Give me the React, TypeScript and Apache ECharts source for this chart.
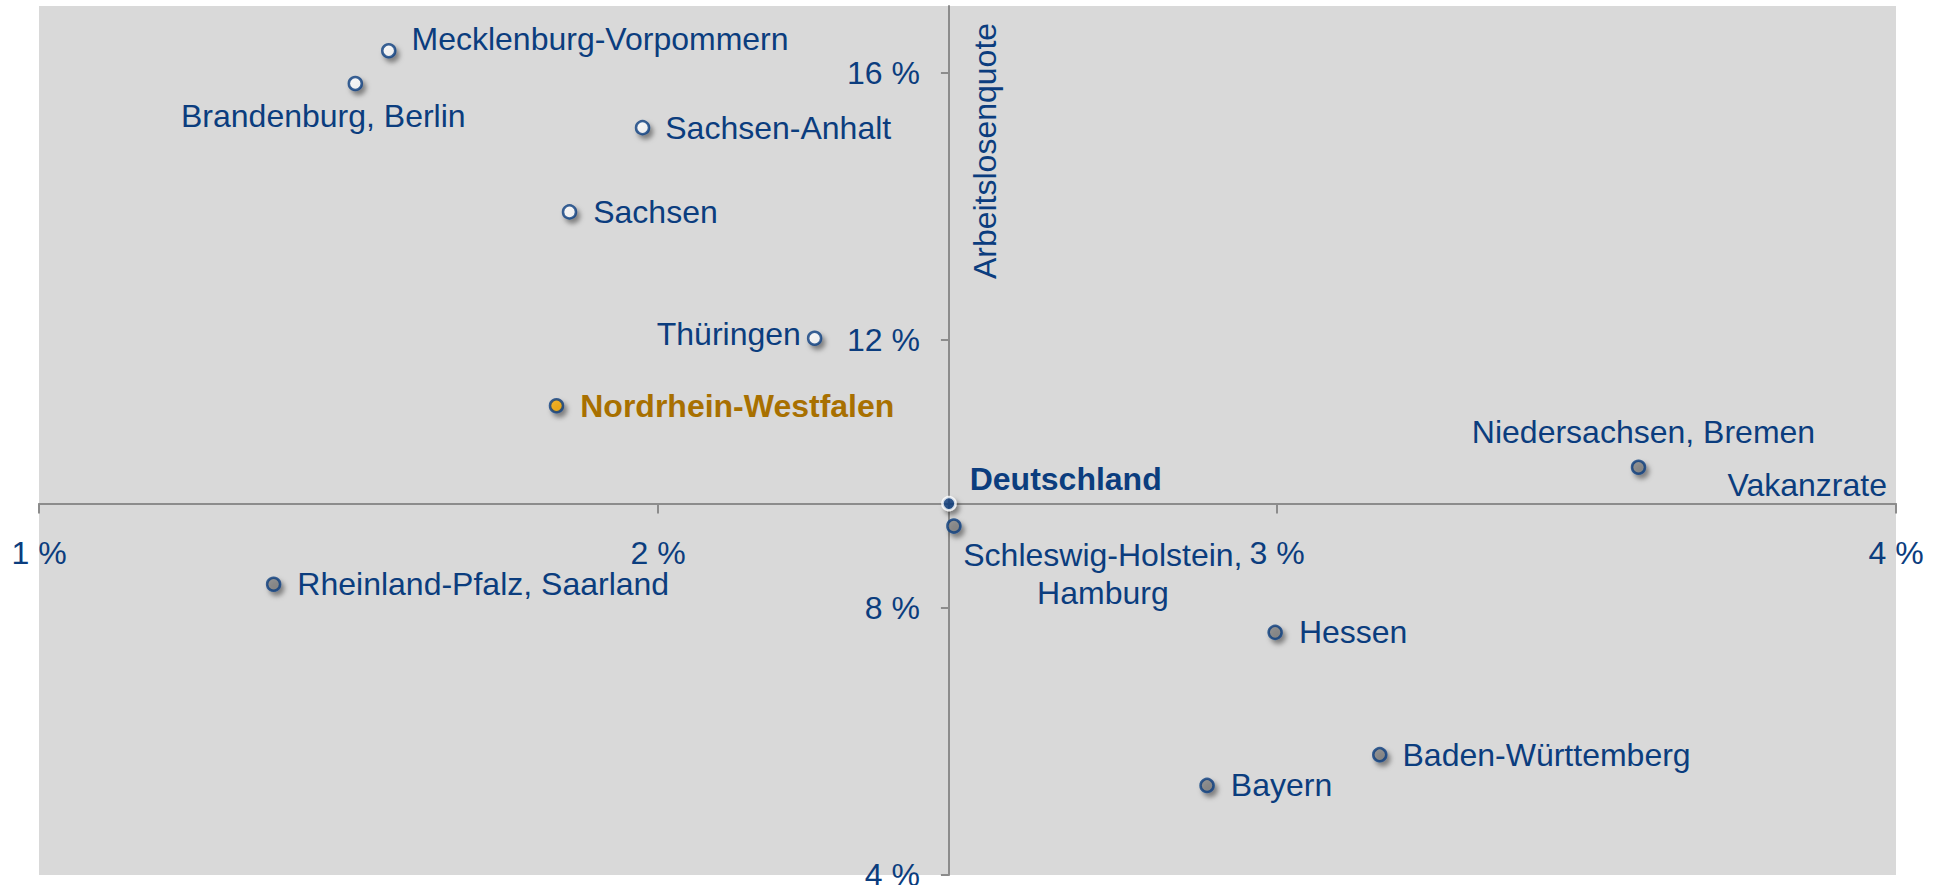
import React, { useEffect, useRef } from "react";
import * as echarts from "echarts";

// ---- data ----
const regions = [
  "Mecklenburg-Vorpommern",
  "Brandenburg, Berlin",
  "Sachsen-Anhalt",
  "Sachsen",
  "Thüringen",
  "Nordrhein-Westfalen",
  "Deutschland",
  "Niedersachsen, Bremen",
  "Schleswig-Holstein, Hamburg",
  "Hessen",
  "Baden-Württemberg",
  "Bayern",
  "Rheinland-Pfalz, Saarland",
];
// Vakanzrate in %
const vakanzrate = [1.565, 1.511, 1.975, 1.857, 2.253, 1.836, 2.47, 3.584, 2.478, 2.997, 3.166, 2.887, 1.379];
// Arbeitslosenquote in %
const arbeitslosenquote = [16.33, 15.84, 15.18, 13.92, 12.03, 11.02, 9.556, 10.1, 9.22, 7.63, 5.8, 5.34, 8.35];
// marker group
const groups = ["ost", "ost", "ost", "ost", "ost", "nrw", "de", "west", "west", "west", "west", "west", "west"];

const xTicks = [1, 2, 3, 4];
const yTicks = [4, 8, 12, 16];
const xRange = [1, 4];
const yRange = [4, 17];
const xAxisTitle = "Vakanzrate";
const yAxisTitle = "Arbeitslosenquote";
const crossName = "Deutschland";

// ---- styles ----
const BLUE = "#0B3D7E";
const GOLD = "#A87000";
const FONT = "'Liberation Sans', Arial, Helvetica, sans-serif";
const FS = 32;
const AXIS_COLOR = "#8C8C8C";
const GRID = { left: 39, top: 6, width: 1857, height: 869 };

const markerStyles: Record<string, any> = {
  ost: { color: "#FFFFFF", borderColor: BLUE },
  west: { color: "#7F7F7F", borderColor: BLUE },
  nrw: { color: "#F5A800", borderColor: BLUE },
  de: { color: BLUE, borderColor: "#FFFFFF" },
};

const labelLayout: Record<string, any> = {
  "Mecklenburg-Vorpommern": { position: "right", distance: 15, offset: [0, -12] },
  "Brandenburg, Berlin": { position: "inside", offset: [-32, 32] },
  "Sachsen-Anhalt": { position: "right", distance: 15 },
  Sachsen: { position: "right", distance: 16 },
  "Thüringen": { position: "left", distance: 6, offset: [0, -4] },
  "Nordrhein-Westfalen": { position: "right", distance: 16, fontWeight: "bold", color: GOLD },
  Deutschland: { position: "right", distance: 13, offset: [0, -25], fontWeight: "bold" },
  "Niedersachsen, Bremen": { position: "inside", offset: [5, -35] },
  "Schleswig-Holstein, Hamburg": {
    position: "inside",
    offset: [149, 48],
    align: "center",
    lineHeight: 38,
    text: "Schleswig-Holstein,\nHamburg",
  },
  Hessen: { position: "right", distance: 16 },
  "Baden-Württemberg": { position: "right", distance: 15 },
  Bayern: { position: "right", distance: 16 },
  "Rheinland-Pfalz, Saarland": { position: "right", distance: 16 },
};

export default function App() {
  const ref = useRef<HTMLDivElement>(null);

  useEffect(() => {
    document.body.style.margin = "0";
    if (!ref.current) return;
    const chart = echarts.init(ref.current, undefined, { renderer: "svg" });

    const ci = regions.indexOf(crossName);
    const cx = vakanzrate[ci];
    const cy = arbeitslosenquote[ci];

    const data = regions.map((name, i) => {
      const ms = markerStyles[groups[i]];
      const lay = labelLayout[name] || { position: "right" };
      const { text, ...rest } = lay;
      return {
        name,
        value: [vakanzrate[i], arbeitslosenquote[i]],
        itemStyle: {
          color: ms.color,
          borderColor: ms.borderColor,
          borderWidth: 2.5,
          shadowBlur: 5,
          shadowOffsetX: 3,
          shadowOffsetY: 4,
          shadowColor: "rgba(0,0,0,0.5)",
        },
        label: {
          show: true,
          color: BLUE,
          fontSize: FS,
          fontFamily: FONT,
          textBorderWidth: 0,
          textShadowBlur: 0,
          opacity: 1,
          formatter: text ? text : "{b}",
          ...rest,
        },
      };
    });

    const axisText = { color: BLUE, fontSize: FS, fontFamily: FONT };

    const base: any = {
      animation: false,
      backgroundColor: "#FFFFFF",
      grid: {
        show: true,
        ...GRID,
        containLabel: false,
        outerBoundsMode: "none",
        backgroundColor: "#D9D9D9",
        borderWidth: 0,
      },
      xAxis: {
        type: "value",
        position: "bottom",
        min: xRange[0],
        max: xRange[1],
        interval: 1,
        splitLine: { show: false },
        axisLine: { show: true, onZero: false, lineStyle: { color: AXIS_COLOR, width: 2 } },
        axisTick: {
          show: true,
          length: 10,
          lineStyle: { color: AXIS_COLOR, width: 2 },
          customValues: xTicks,
        },
        axisLabel: {
          ...axisText,
          margin: 33,
          customValues: xTicks,
          formatter: (v: number) => `${Math.round(v)} %`,
        },
      },
      yAxis: {
        type: "value",
        position: "left",
        min: yRange[0],
        max: yRange[1],
        splitLine: { show: false },
        axisLine: { show: true, onZero: false, lineStyle: { color: AXIS_COLOR, width: 2 } },
        axisTick: {
          show: true,
          length: 8,
          lineStyle: { color: AXIS_COLOR, width: 2 },
          customValues: yTicks,
        },
        axisLabel: {
          ...axisText,
          margin: 29,
          customValues: yTicks,
          formatter: (v: number) => `${Math.round(v)} %`,
        },
      },
      series: [
        {
          type: "scatter",
          symbol: "circle",
          symbolSize: 13,
          data,
          z: 5,
          emphasis: { disabled: true },
        },
      ],
    };
    chart.setOption(base);

    // move both axes so that they cross at the Germany point
    const cross = chart.convertToPixel({ gridIndex: 0 }, [cx, cy]) as number[];
    const corner = chart.convertToPixel({ gridIndex: 0 }, [xRange[0], yRange[0]]) as number[];
    const xOffset = cross[1] - corner[1]; // negative: move up
    const yOffset = corner[0] - cross[0]; // negative: move right
    const rightEdge = GRID.left + GRID.width;

    chart.setOption({
      xAxis: { offset: xOffset },
      yAxis: { offset: yOffset },
      graphic: [
        {
          type: "text",
          x: cross[0] + 36,
          y: GRID.top + 145,
          rotation: Math.PI / 2,
          style: {
            text: yAxisTitle,
            fill: BLUE,
            font: `${FS}px ${FONT}`,
            align: "center",
            verticalAlign: "middle",
          },
          z: 10,
        },
        {
          type: "text",
          x: rightEdge - 9,
          y: cross[1] - 19,
          style: {
            text: xAxisTitle,
            fill: BLUE,
            font: `${FS}px ${FONT}`,
            align: "right",
            verticalAlign: "middle",
          },
          z: 10,
        },
      ],
    });

    return () => chart.dispose();
  }, []);

  return <div ref={ref} style={{ width: 1942, height: 885 }} />;
}
